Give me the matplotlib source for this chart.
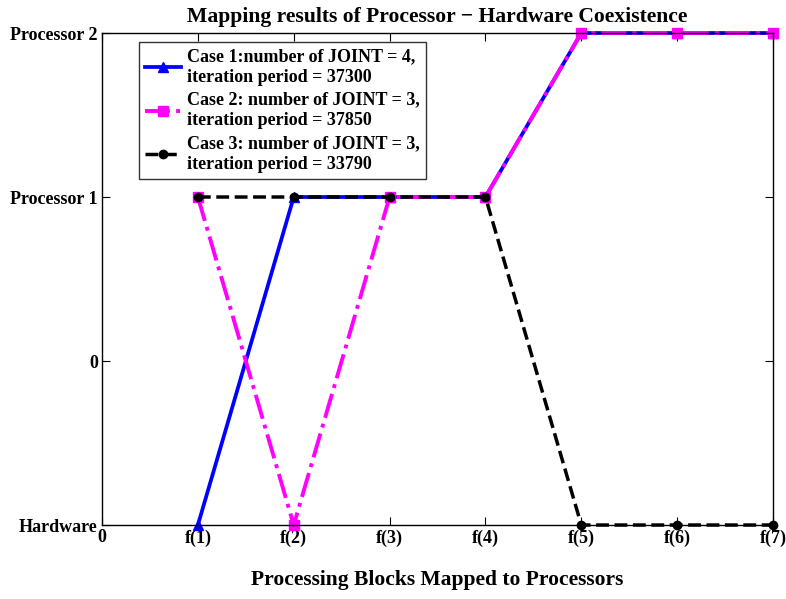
import matplotlib
matplotlib.use("Agg")
import matplotlib.pyplot as plt

plt.rcParams['font.family'] = ['Liberation Serif', 'DejaVu Serif']
plt.rcParams['font.weight'] = 'bold'

blocks = [1, 2, 3, 4, 5, 6, 7]
x_tick_pos = [0, 1, 2, 3, 4, 5, 6, 7]
x_tick_labels = ['0', 'f(1)', 'f(2)', 'f(3)', 'f(4)', 'f(5)', 'f(6)', 'f(7)']
y_tick_pos = [-1, 0, 1, 2]
y_tick_labels = ['Hardware', '0', 'Processor 1', 'Processor 2']

case1 = [-1, 1, 1, 1, 2, 2, 2]
case2 = [1, -1, 1, 1, 2, 2, 2]
case3 = [1, 1, 1, 1, -1, -1, -1]

labels = ['Case 1:number of JOINT = 4,\niteration period = 37300',
          'Case 2: number of JOINT = 3,\niteration period = 37850',
          'Case 3: number of JOINT = 3,\niteration period = 33790']

fig = plt.figure(figsize=(7.86, 5.99), dpi=100)
ax = fig.add_axes([0.1298, 0.1235, 0.8537, 0.8214])

ax.plot(blocks, case1, color='#0000ff', linestyle='-', linewidth=2.7,
        marker='^', markersize=7.5, label=labels[0], clip_on=False)
ax.plot(blocks, case2, color='#ff00ff', linestyle='-.', linewidth=2.8,
        marker='s', markersize=6.5, label=labels[1], clip_on=False)
ax.plot(blocks, case3, color='black', linestyle='--', linewidth=2.5,
        marker='o', markersize=6, label=labels[2], clip_on=False)

ax.set_xlim(0, 7)
ax.set_ylim(-1, 2)
ax.set_xticks(x_tick_pos)
ax.set_xticklabels(x_tick_labels, fontsize=13, fontweight='bold')
ax.set_yticks(y_tick_pos)
ax.set_yticklabels(y_tick_labels, fontsize=13, fontweight='bold')
ax.tick_params(direction='in', top=True, right=True, length=6, width=0.8, pad=3)
for s in ax.spines.values():
    s.set_linewidth(1.0)

ax.set_title('Mapping results of Processor \u2212 Hardware Coexistence',
             fontsize=15.6, fontweight='bold', pad=8)
ax.set_xlabel('Processing Blocks Mapped to Processors',
              fontsize=15.5, fontweight='bold', labelpad=17)

leg = ax.legend(loc='upper left', bbox_to_anchor=(0.055, 0.982),
                fontsize=13, frameon=True, fancybox=False, edgecolor='black',
                handlelength=2.0, handletextpad=0.3, borderpad=0.35,
                labelspacing=0.3, borderaxespad=0)
leg.get_frame().set_linewidth(1.0)
for t in leg.get_texts():
    t.set_fontweight('bold')
    t.set_linespacing(1.3)

fig.savefig('out.png', dpi=100)
